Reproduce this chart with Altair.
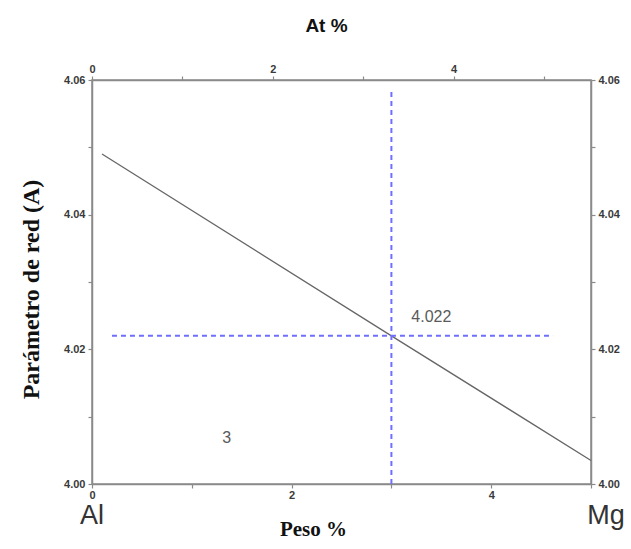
import altair as alt
import pandas as pd

# Lattice parameter of Al-Mg solid solution vs. Mg content
peso_pct = [0.1, 3.0, 5.0]
param_red = [4.049, 4.022, 4.0035]

# reference lines through the 3 wt% point
ref_x = 3.0
ref_y = 4.022
vline_y = [4.0, 4.0588]
hline_x = [0.2, 4.62]

x_ticks = [0, 1, 2, 3, 4, 5]
y_ticks = [4.00, 4.01, 4.02, 4.03, 4.04, 4.05, 4.06]
at_ticks = [0, 1, 2, 3, 4, 5]
at_max = 5.52  # atomic % equivalent of 5 wt% Mg

W, H = 499, 404
GRAY = "#8a8a8a"
LBL = "#3a3a3a"
BLUE = "#6f6fff"

xs = alt.Scale(domain=[0, 5], nice=False, zero=False)
ys = alt.Scale(domain=[4.00, 4.06], nice=False, zero=False)

even_x = "datum.value % 2 == 0 ? format(datum.value, 'd') : ''"
even_y = "round(datum.value * 100) % 2 == 0 ? format(datum.value, '.2f') : ''"

curve = pd.DataFrame({"peso": peso_pct, "a": param_red})

line = alt.Chart(curve).mark_line(color="#666666", strokeWidth=1.3).encode(
    x=alt.X("peso:Q", scale=xs,
            axis=alt.Axis(values=x_ticks, labelExpr=even_x, title="Peso %",
                          titleFont="Liberation Serif", titleFontSize=21,
                          titleFontWeight="bold", titleColor="#111",
                          titlePadding=18, titleX=221, labelPadding=1)),
    y=alt.Y("a:Q", scale=ys,
            axis=alt.Axis(values=y_ticks, labelExpr=even_y,
                          title="Parámetro de red (A)",
                          titleFont="Liberation Serif", titleFontSize=24,
                          titleFontWeight="bold", titleColor="#111",
                          titlePadding=20, titleY=209, labelPadding=3)),
)

vdf = pd.DataFrame({"x": [ref_x], "y": [vline_y[0]], "y2": [vline_y[1]]})
vrule = alt.Chart(vdf).mark_rule(color=BLUE, strokeWidth=2, strokeDash=[5, 4]).encode(
    x=alt.X("x:Q", scale=xs), y=alt.Y("y:Q", scale=ys), y2="y2:Q"
)
hdf = pd.DataFrame({"x": [hline_x[0]], "x2": [hline_x[1]], "y": [ref_y]})
hrule = alt.Chart(hdf).mark_rule(color=BLUE, strokeWidth=2, strokeDash=[5, 4]).encode(
    x=alt.X("x:Q", scale=xs), x2="x2:Q", y=alt.Y("y:Q", scale=ys)
)

vals = pd.DataFrame({"x": [3.40, 1.35], "y": [4.0248, 4.0068],
                     "t": [f"{ref_y:.3f}", f"{ref_x:g}"]})
val_text = alt.Chart(vals).mark_text(font="Arial", fontSize=16, color="#5a5a5a").encode(
    x=alt.X("x:Q", scale=xs), y=alt.Y("y:Q", scale=ys), text="t:N"
)

ends = pd.DataFrame({"x": [0, 5.15], "t": ["Al", "Mg"]})
end_text = alt.Chart(ends).mark_text(font="Arial", fontSize=27, color="#333",
                                      baseline="middle").encode(
    x=alt.X("x:Q", scale=xs), y=alt.value(H + 32), text="t:N"
)

main = alt.layer(line, vrule, hrule, val_text, end_text)

# secondary axes: atomic % on top, lattice parameter repeated on the right
top = alt.Chart(pd.DataFrame({"at": [0, at_max], "a": [4.0, 4.06]})).mark_point(opacity=0).encode(
    x=alt.X("at:Q", scale=alt.Scale(domain=[0, at_max], nice=False, zero=False),
            axis=alt.Axis(orient="top", values=at_ticks, labelExpr=even_x,
                          title="At %", titleFont="Arial", titleFontSize=19,
                          titleFontWeight="bold", titleColor="#111",
                          titlePadding=28, titleX=234, labelPadding=2)),
    y=alt.Y("a:Q", scale=ys, axis=None),
)
right = alt.Chart(pd.DataFrame({"p": [0, 5], "a": [4.0, 4.06]})).mark_point(opacity=0).encode(
    x=alt.X("p:Q", scale=xs, axis=None),
    y=alt.Y("a:Q", scale=ys,
            axis=alt.Axis(orient="right", values=y_ticks, labelExpr=even_y,
                          title=None, labelPadding=3)),
)

chart = alt.layer(main, top, right).resolve_scale(
    x="independent", y="independent"
).properties(
    width=W, height=H,
    autosize=alt.AutoSizeParams(type="none"),
    padding={"left": 92, "top": 80, "right": 40, "bottom": 65},
).configure_view(
    stroke=GRAY, strokeWidth=1.5
).configure_axis(
    grid=False, domainColor=GRAY, domainWidth=1.5, tickColor=GRAY,
    tickSize=4, tickWidth=1.2, labelFont="Arial", labelFontSize=11,
    labelFontWeight="bold", labelColor=LBL, labelFlush=False,
)

chart.save("out.html", embed_options={"renderer": "svg", "actions": False})
